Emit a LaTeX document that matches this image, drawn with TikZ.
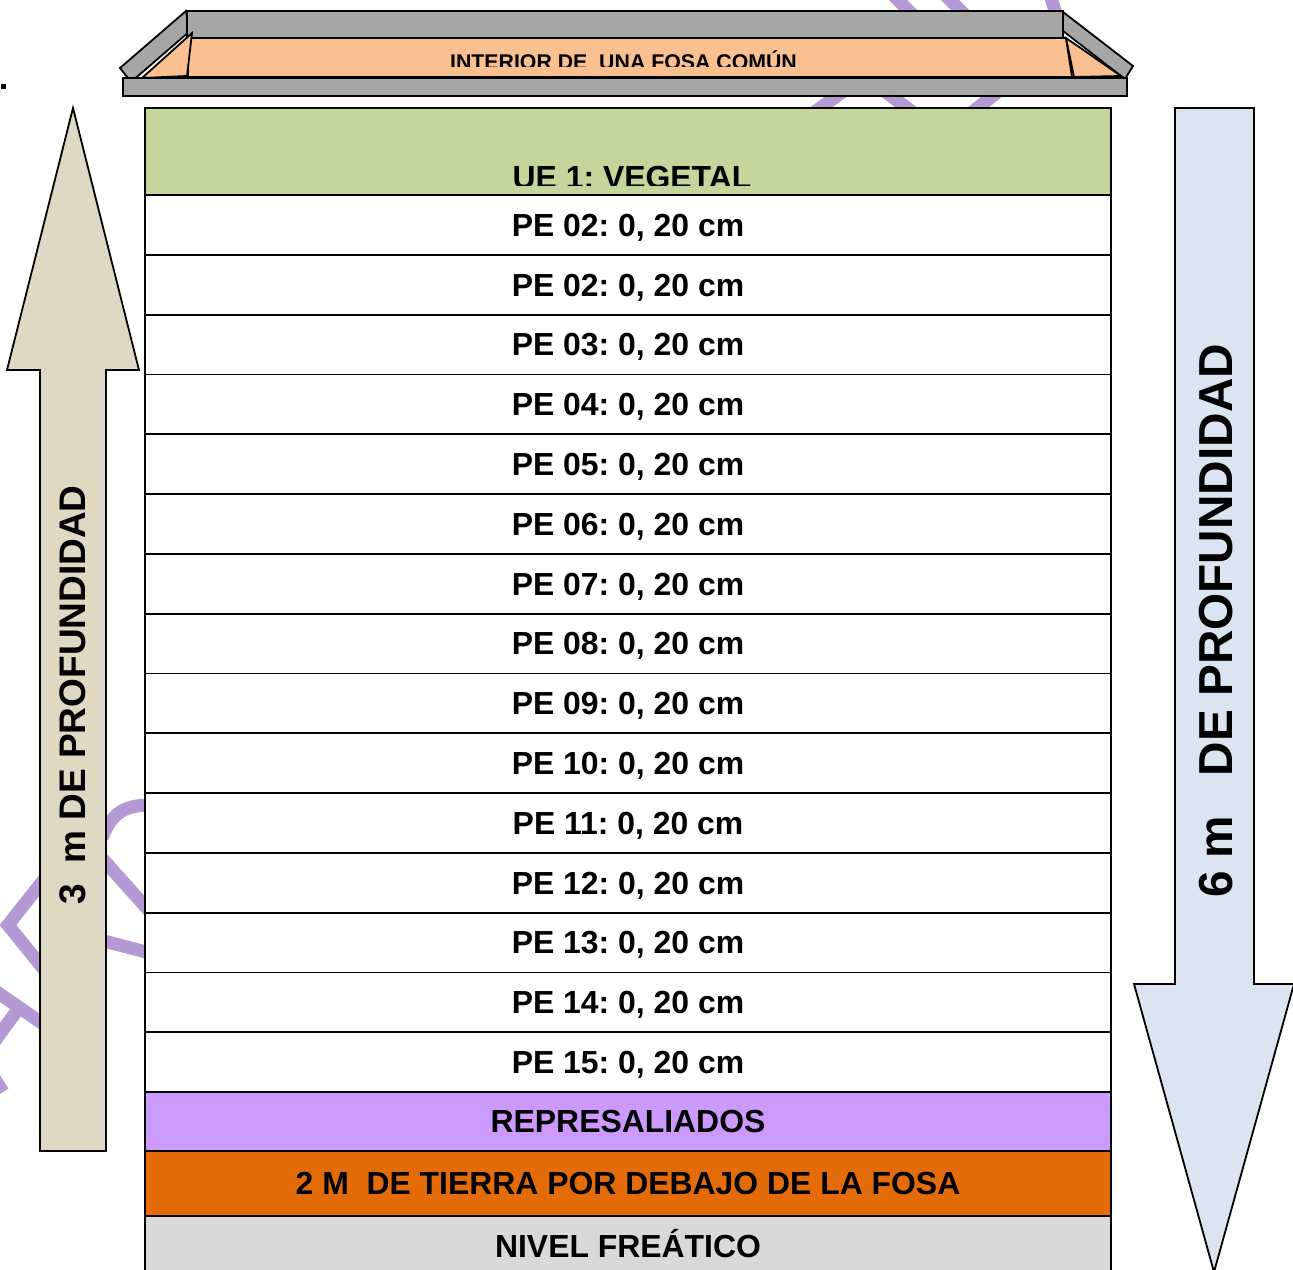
\documentclass[tikz,border=0pt]{standalone}
\usepackage{fontspec}
\setmainfont{Liberation Sans}
\frenchspacing
\definecolor{wmpurple}{RGB}{181,153,212}
\definecolor{vegetal}{HTML}{C3D69B}
\definecolor{represal}{HTML}{CC99FF}
\definecolor{tierra}{HTML}{E36C09}
\definecolor{freatico}{HTML}{D9D9D9}
\definecolor{coffingray}{HTML}{A6A6A6}
\definecolor{coffinorange}{HTML}{FAC090}
\definecolor{arrowtan}{HTML}{DDD9C3}
\definecolor{arrowblue}{HTML}{DBE5F1}
\begin{document}
\begin{tikzpicture}[x=1pt,y=-1pt,
  edge/.style={draw=black, line width=1.8pt, line join=miter},
  layer/.style={edge, rectangle, fill=white, minimum width=966pt, minimum height=59.8pt,
    inner sep=0pt, text height=22.8pt, text depth=0pt,
    font=\fontsize{31.9}{36}\selectfont\bfseries},
  lbl/.style={inner sep=0pt, font=\fontsize{31.9}{36}\selectfont\bfseries},
  wm/.style={draw=wmpurple, line width=13pt},
]
\useasboundingbox (0,0) rectangle (1293,1269);
\clip (0,0) rectangle (1293,1269);

% watermark fragments (background)
\draw[wm] (893,-5) -- (918,20);
\draw[wm] (945,-5) -- (970,20);
\draw[wm] (1050,-5) -- (1058,20);
\draw[wm] (812,114) -- (845,90);
\draw[wm] (883,90) -- (915,114);
\draw[wm] (1000,90) -- (970,114);
\draw[wm] (102,838) .. controls (112,812) and (125,805) .. (152,805);
\draw[wm] (100,856) -- (152,914);
\draw[wm] (100,940) -- (150,953);
\draw[wm, line join=miter] (46,877) -- (8,925) -- (46,972);
\draw[wm] (-6,990) -- (46,1026);
\draw[wm] (16,1012) -- (-6,1042);
\draw[wm] (-6,1078) -- (3,1092);

% stray dot
\fill (1,84) rectangle (6,89);

% coffin
\draw[edge, fill=coffinorange] (188,38) -- (1066,38) -- (1072,77) -- (188,77) -- cycle;
\begin{scope}
  \clip (188,38) rectangle (1066,66.5);
  \node[anchor=base, inner sep=0pt, font=\fontsize{21.3}{24}\selectfont\bfseries] (title) at (623.5,69.3) {INTERIOR DE\ \ UNA FOSA COMÚN};
\end{scope}
\draw[edge, fill=coffingray] (186,11) -- (120,68) -- (131,82) -- (190,31) -- cycle;
\draw[edge, fill=coffingray] (1063,12) -- (1133,66) -- (1125,79) -- (1063,31) -- cycle;
\draw[edge, fill=coffingray] (187,11) rectangle (1063,38);
\draw[edge, fill=coffinorange] (192,33) -- (142,78) -- (187,76) -- cycle;
\draw[edge, fill=coffinorange] (1066,38) -- (1121,76) -- (1074,77) -- cycle;
\draw[edge, fill=coffingray] (123,78) rectangle (1127,96);

% left arrow
\draw[edge, fill=arrowtan] (73,108) -- (139,370) -- (106,370) -- (106,1151) -- (40,1151) -- (40,370) -- (7,370) -- cycle;
\node[rotate=90, inner sep=0pt, text height=26.5pt, text depth=0pt, font=\fontsize{37}{42}\selectfont\bfseries] (ltext) at (72,695) {3\ \ m DE PROFUNDIDAD};

% right arrow
\draw[edge, fill=arrowblue] (1175,108) -- (1254,108) -- (1254,984) -- (1294,984) -- (1214,1272) -- (1134,984) -- (1175,984) -- cycle;
\node[rotate=90, inner sep=0pt, text height=34.2pt, text depth=0pt, font=\fontsize{47.7}{52}\selectfont\bfseries] (rtext) at (1215,621) {6 m\ \ \ DE PROFUNDIDAD};

% layers
\node[edge, rectangle, fill=vegetal, minimum width=966pt, minimum height=87pt, inner sep=0pt] (ue) at (628,151.5) {};
\begin{scope}
  \clip (146,109) rectangle (1110,185);
  \node[lbl, anchor=base] (uetext) at (632,188.5) {UE 1: VEGETAL};
\end{scope}
\foreach \i/\lab in {1/02,2/02,3/03,4/04,5/05,6/06,7/07,8/08,9/09,10/10,11/11,12/12,13/13,14/14,15/15}{
  \node[layer] (pe\i) at (628,{195+59.8*(\i-0.5)}) {PE \lab: 0, 20 cm};
}
\node[layer, fill=represal, minimum height=59pt] (rep) at (628,1121.5) {REPRESALIADOS};
\node[layer, fill=tierra, minimum height=65pt] (tierra) at (628,1183.5) {2 M\ \ DE TIERRA POR DEBAJO DE LA FOSA};
\node[layer, fill=freatico, minimum height=60pt] (nivel) at (628,1246) {NIVEL FREÁTICO};
\end{tikzpicture}
\end{document}
